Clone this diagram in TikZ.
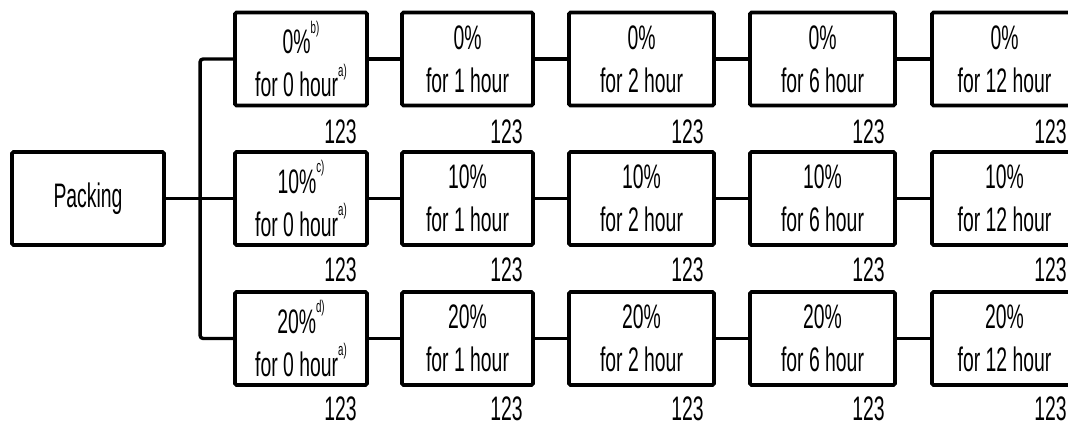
\documentclass[tikz,border=0pt]{standalone}
\usepackage{fontspec}
\setmainfont{Liberation Sans}[FakeStretch=0.57]
\newcommand{\mysup}[1]{\raisebox{1.15ex}{\fontsize{17}{17}\selectfont #1}}
\begin{document}
\begin{tikzpicture}[x=1pt,y=-1pt,
  box/.style={draw, line width=3.8pt, rounded corners=1.5pt, align=center, inner sep=0pt,
              font=\fontsize{34}{43}\selectfont},
  wide/.style={box, minimum width=145, minimum height=93},
  narrow/.style={box, minimum width=132, minimum height=93},
  conn/.style={line width=3.4pt},
  num/.style={anchor=east, inner sep=0pt, font=\fontsize{34}{34}\selectfont}]
\useasboundingbox (0,0) rectangle (1068,423);
\clip (0,0) rectangle (1068,423);
% Packing
\node[box, minimum width=152, minimum height=93] (pack) at (88,198.5) {Packing};
% rows
\foreach \r/\p/\s/\y/\d in {1/0/b/59/24, 2/10/c/198.5/22.5, 3/20/d/338.5/21.5}{
  \node[narrow] (r\r c1) at (301,\y) {\p\%\mysup{\s)}\\for 0 hour\mysup{a)}};
  \node[narrow, minimum width=131] (r\r c2) at (467.5,\y) {\p\%\\for 1 hour};
  \node[wide] (r\r c3) at (641.5,\y) {\p\%\\for 2 hour};
  \node[wide] (r\r c4) at (822.5,\y) {\p\%\\for 6 hour};
  \node[wide] (r\r c5) at (1004.5,\y) {\p\%\\for 12 hour};
  \foreach \c in {1,...,5}{
    \node[num] (n\r c\c) at ([xshift=-12pt,yshift=-\d pt]r\r c\c.south east) {123};
  }
  \draw[conn] (r\r c1.east) -- (r\r c2.west);
  \draw[conn] (r\r c2.east) -- (r\r c3.west);
  \draw[conn] (r\r c3.east) -- (r\r c4.west);
  \draw[conn] (r\r c4.east) -- (r\r c5.west);
}
\draw[conn, rounded corners=3pt] (r1c1.west) -- ++(-33,0) |- (r3c1.west);
\draw[conn] (pack.east) -- (r2c1.west);
\end{tikzpicture}
\end{document}
